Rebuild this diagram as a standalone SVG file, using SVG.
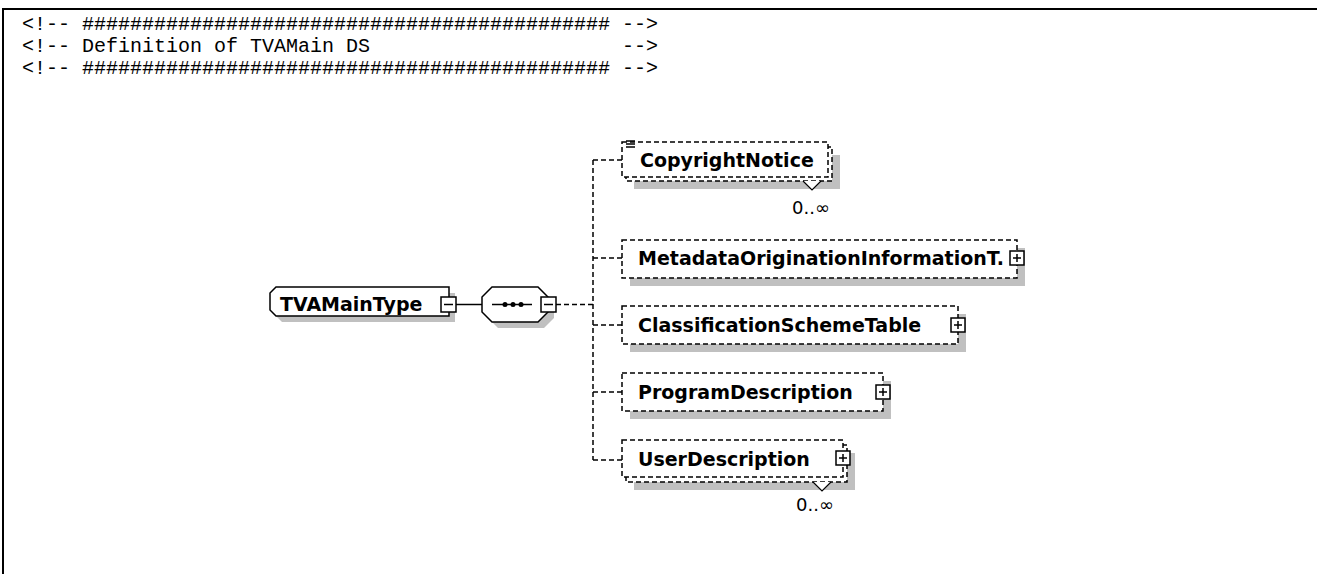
<svg xmlns="http://www.w3.org/2000/svg" width="1317" height="574" viewBox="0 0 1317 574">
<style>
.hdr{font-family:"Liberation Mono","Courier New",monospace;font-size:20px;fill:#000;white-space:pre}
.lbl{font-family:"DejaVu Sans",Verdana,sans-serif;font-weight:bold;font-size:19px;fill:#000}
.occ{font-family:"DejaVu Sans",Verdana,sans-serif;font-size:18px;fill:#000}
.sh{fill:#c0c0c0;stroke:none}
.box{fill:#fff;stroke:#000;stroke-width:1.5}
.dbox{fill:#fff;stroke:#000;stroke-width:1.5;stroke-dasharray:5 3}
.dl{fill:none;stroke:#000;stroke-width:1.5;stroke-dasharray:5 3}
.sl{fill:none;stroke:#000;stroke-width:1.5}
</style>
<rect width="1317" height="574" fill="#fff"/>
<path d="M2,9 H1317 M3,9 V574" fill="none" stroke="#000" stroke-width="2"/>
<g id="header">
<text class="hdr" x="22" y="30">&lt;!-- ############################################ --&gt;</text>
<text class="hdr" x="22" y="52">&lt;!-- Definition of TVAMain DS                     --&gt;</text>
<text class="hdr" x="22" y="74">&lt;!-- ############################################ --&gt;</text>
</g>
<g id="connectors">
<line class="sl" x1="456" y1="304.5" x2="482" y2="304.5"/>
<line class="dl" x1="556" y1="304.5" x2="593" y2="304.5"/>
<path class="dl" d="M593,160 V460"/>
<path class="dl" d="M593,160 H622 M593,258 H622 M593,325 H622 M593,392 H622 M593,460 H622"/>
</g>
<g id="TVAMainType">
<polygon class="sh" points="282,293 455,293 455,322 282,322 276,316 276,299"/>
<polygon class="box" points="276,287 449,287 449,316 276,316 270,310 270,293"/>
<text class="lbl" x="280" y="311">TVAMainType</text>
<rect class="box" x="441" y="297" width="15" height="15"/>
<line class="sl" x1="444" y1="304.5" x2="453" y2="304.5"/>
</g>
<g id="sequence">
<polygon class="sh" points="498,293 544,293 554,303 554,318 544,328 498,328 488,318 488,303"/>
<polygon class="box" points="492,287 538,287 548,297 548,312 538,322 492,322 482,312 482,297"/>
<line class="sl" x1="492" y1="304.5" x2="532" y2="304.5"/>
<circle cx="505" cy="304.5" r="2.5"/>
<circle cx="513" cy="304.5" r="2.5"/>
<circle cx="521" cy="304.5" r="2.5"/>
<rect class="box" x="541" y="297" width="15" height="15"/>
<line class="sl" x1="544" y1="304.5" x2="553" y2="304.5"/>
</g>
<g id="CopyrightNotice">
<rect class="sh" x="634" y="155" width="206" height="34"/>
<rect class="dbox" x="626" y="147" width="206" height="34"/>
<rect class="dbox" x="622" y="142" width="206" height="35"/>
<path class="sl" d="M626,141 H635 M626,144 H635 M626,147 H635"/>
<text class="lbl" x="640" y="167">CopyrightNotice</text>
<polyline points="803,181 812,190 821,181" fill="#fff" stroke="#000" stroke-width="1.2"/>
<text class="occ" x="830" y="214" text-anchor="end">0..∞</text>
</g>
<g id="MetadataOriginationInformationTable">
<rect class="sh" x="630" y="248" width="395" height="38"/>
<rect class="dbox" x="622" y="240" width="395" height="38"/>
<text class="lbl" x="638" y="265">MetadataOriginationInformationT.</text>
<rect class="box" x="1010" y="251" width="14" height="14"/>
<path class="sl" d="M1013,258 H1021 M1017,254 V262"/>
</g>
<g id="ClassificationSchemeTable">
<rect class="sh" x="630" y="314" width="336" height="38"/>
<rect class="dbox" x="622" y="306" width="336" height="38"/>
<text class="lbl" x="638" y="332">ClassificationSchemeTable</text>
<rect class="box" x="951" y="318" width="14" height="14"/>
<path class="sl" d="M954,325 H962 M958,321 V329"/>
</g>
<g id="ProgramDescription">
<rect class="sh" x="630" y="381" width="261" height="38"/>
<rect class="dbox" x="622" y="373" width="261" height="38"/>
<text class="lbl" x="638" y="399">ProgramDescription</text>
<rect class="box" x="876" y="385" width="14" height="14"/>
<path class="sl" d="M879,392 H887 M883,388 V396"/>
</g>
<g id="UserDescription">
<rect class="sh" x="634" y="453" width="221" height="37"/>
<rect class="dbox" x="626" y="445" width="221" height="37"/>
<rect class="dbox" x="622" y="440" width="221" height="37"/>
<text class="lbl" x="638" y="466">UserDescription</text>
<rect class="box" x="836" y="451" width="14" height="14"/>
<path class="sl" d="M839,458 H847 M843,454 V462"/>
<polyline points="813,482 822,491 831,482" fill="#fff" stroke="#000" stroke-width="1.2"/>
<text class="occ" x="834" y="511" text-anchor="end">0..∞</text>
</g>
</svg>
